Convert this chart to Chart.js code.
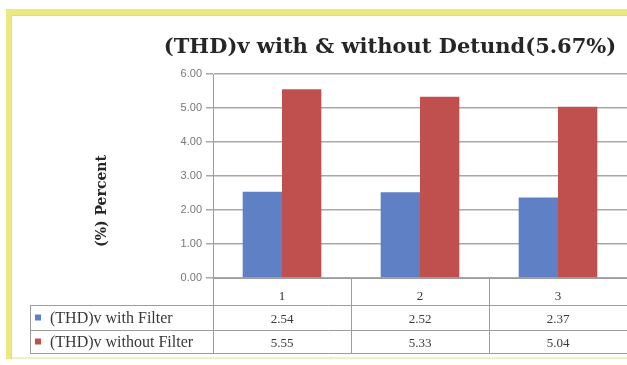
<!DOCTYPE html>
<html>
<head>
<meta charset="utf-8">
<script src="https://cdn.jsdelivr.net/npm/chart.js@4.4.1/dist/chart.umd.min.js"></script>
<style>
  html, body { margin: 0; padding: 0; background: #fffffc; }
  #wrap { position: relative; width: 627px; height: 365px; }
  canvas { display: block; }
</style>
</head>
<body>
<div id="wrap"><canvas id="c" width="627" height="365"></canvas></div>
<script>
// Chart contents
const chartTitle = '(THD)v with & without Detund(5.67%)';
const yAxisTitle = '(%) Percent';
const categories = ['1', '2', '3'];
const seriesNames = ['(THD)v with Filter', '(THD)v without Filter'];
const withFilter = [2.54, 2.52, 2.37];
const withoutFilter = [5.55, 5.33, 5.04];
const yTicks = [0, 1, 2, 3, 4, 5, 6];

const BLUE = '#5f80c4';
const RED = '#c0504d';
const GRID = '#a8a8a8';
const TABLE_LINE = '#9c9c9c';

// Frame, headline and rotated axis title
const framePlugin = {
  id: 'frame',
  beforeDraw(chart) {
    const ctx = chart.ctx;
    ctx.save();
    ctx.fillStyle = '#ffffff';
    ctx.fillRect(0, 0, chart.width, chart.height);
    // yellow outline of the chart box
    ctx.fillStyle = '#ece97f';
    ctx.fillRect(6, 9, chart.width - 6, 6);
    ctx.fillRect(6, 9, 6, 350);
    ctx.fillStyle = '#d9d7a8';
    ctx.fillRect(12, 15, chart.width - 12, 1);
    ctx.fillRect(11, 15, 1, 344);
    ctx.fillStyle = '#f1efc6';
    ctx.fillRect(12, 357, chart.width - 12, 2);
    ctx.restore();
  },
  afterDraw(chart) {
    const ctx = chart.ctx;
    ctx.save();
    ctx.fillStyle = '#262626';
    ctx.font = "bold 21px 'DejaVu Serif'";
    ctx.textAlign = 'center';
    ctx.textBaseline = 'alphabetic';
    ctx.fillText(chartTitle, 390, 53);

    ctx.translate(102, 201);
    ctx.rotate(-Math.PI / 2);
    ctx.font = "bold 14px 'DejaVu Serif'";
    ctx.textBaseline = 'middle';
    ctx.fillText(yAxisTitle, 0, 0);
    ctx.restore();
  }
};

// Data table under the plot: category row, then one row per series
const tablePlugin = {
  id: 'dataTable',
  afterDraw(chart) {
    const ctx = chart.ctx;
    const xs = chart.scales.x;
    const area = chart.chartArea;
    const rows = [area.bottom, area.bottom + 27, area.bottom + 52, area.bottom + 75];
    const legendLeft = 30;
    const bounds = [area.left];
    for (let i = 0; i < categories.length; i++) {
      const c = xs.getPixelForValue(i);
      const next = i < categories.length - 1 ? xs.getPixelForValue(i + 1) : c + (c - bounds[i]);
      bounds.push(i < categories.length - 1 ? (c + next) / 2 : Math.min(next, chart.width));
    }
    ctx.save();
    ctx.strokeStyle = TABLE_LINE;
    ctx.lineWidth = 1;
    ctx.beginPath();
    // horizontal lines
    ctx.moveTo(area.left, rows[0] + 0.5); ctx.lineTo(chart.width, rows[0] + 0.5);
    for (let r = 1; r < rows.length; r++) {
      ctx.moveTo(legendLeft, rows[r] + 0.5); ctx.lineTo(chart.width, rows[r] + 0.5);
    }
    // vertical lines
    ctx.moveTo(legendLeft + 0.5, rows[1]); ctx.lineTo(legendLeft + 0.5, rows[3]);
    bounds.forEach(b => { ctx.moveTo(Math.round(b) + 0.5, rows[0]); ctx.lineTo(Math.round(b) + 0.5, rows[3]); });
    ctx.stroke();

    ctx.fillStyle = '#333333';
    ctx.font = "13px 'Liberation Serif'";
    ctx.textAlign = 'center';
    ctx.textBaseline = 'alphabetic';
    categories.forEach((c, i) => ctx.fillText(c, xs.getPixelForValue(i), rows[1] - 5));

    chart.data.datasets.forEach((ds, r) => {
      const top = rows[r + 1], bottom = rows[r + 2];
      const mid = (top + bottom) / 2;
      ctx.fillStyle = ds.backgroundColor;
      ctx.fillRect(35, mid - 3, 6, 6);
      ctx.fillStyle = '#383838';
      ctx.textAlign = 'left';
      ctx.font = "16px 'Liberation Serif'";
      ctx.fillText(ds.label, 50, mid + 5);
      ctx.textAlign = 'center';
      ctx.font = "13px 'Liberation Serif'";
      ds.data.forEach((v, i) => ctx.fillText(v.toFixed(2), xs.getPixelForValue(i), mid + 5));
    });
    ctx.restore();
  }
};

new Chart(document.getElementById('c'), {
  type: 'bar',
  data: {
    labels: categories,
    datasets: [
      { label: seriesNames[0], data: withFilter, backgroundColor: BLUE },
      { label: seriesNames[1], data: withoutFilter, backgroundColor: RED }
    ]
  },
  options: {
    responsive: false,
    animation: false,
    events: [],
    layout: { padding: { top: 74, bottom: 87, left: 0, right: 0 } },
    datasets: { bar: { categoryPercentage: 0.57, barPercentage: 1.0 } },
    plugins: { legend: { display: false }, title: { display: false }, tooltip: { enabled: false } },
    scales: {
      x: { display: false },
      y: {
        min: 0,
        max: 6,
        afterBuildTicks(scale) { scale.ticks = yTicks.map(v => ({ value: v })); },
        afterFit(scale) { scale.width = 213; },
        ticks: {
          callback: v => Number(v).toFixed(2),
          color: '#777777',
          font: { family: "'Liberation Sans'", size: 11 },
          padding: 4
        },
        grid: { color: GRID, lineWidth: 1.5, tickLength: 7 },
        border: { display: true, color: TABLE_LINE }
      }
    }
  },
  plugins: [framePlugin, tablePlugin]
});
</script>
</body>
</html>
